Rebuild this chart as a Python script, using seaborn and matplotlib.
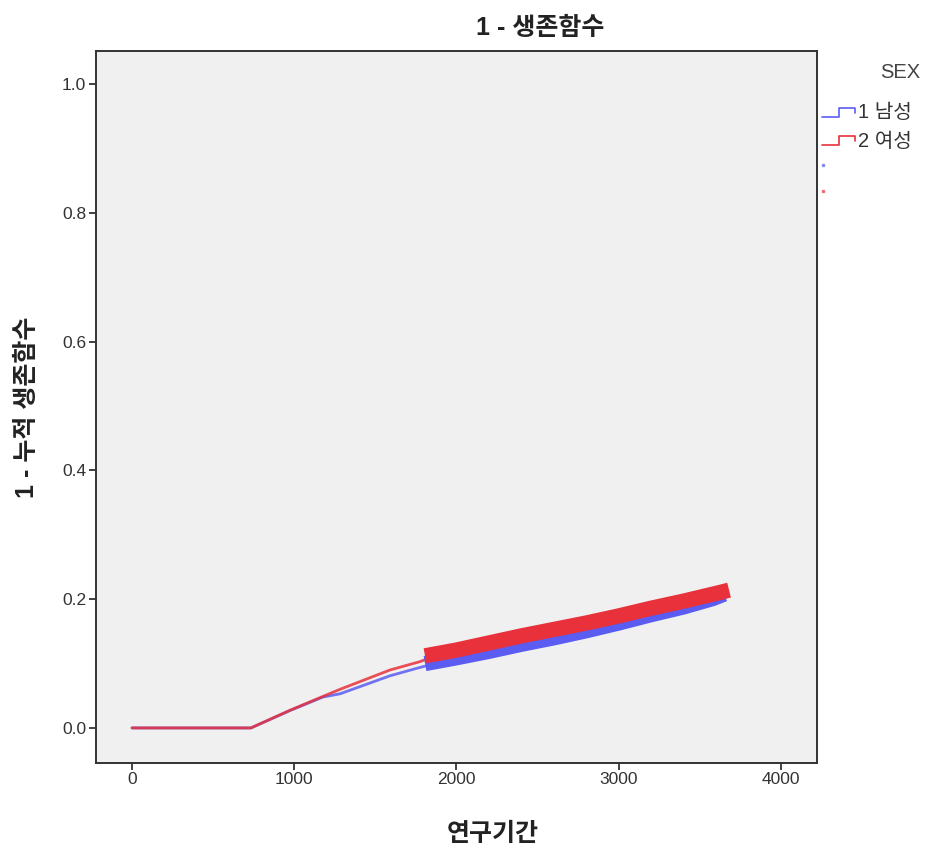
import matplotlib
matplotlib.use("Agg")
import matplotlib.pyplot as plt
from matplotlib.lines import Line2D
import seaborn as sns
import pandas as pd

# ---- data ----
groups = ["1 남성", "2 여성"]
colors = {"1 남성": "#5b5cf2", "2 여성": "#e8313a"}

# thin (uncensored-region) part of the 1 - survival curves
male_time = [0, 733, 974, 1177, 1282, 1590, 1775, 1806]
male_cum = [0.0, 0.0, 0.027, 0.048, 0.053, 0.081, 0.094, 0.096]
female_time = [0, 733, 974, 1177, 1282, 1590, 1775, 1806]
female_cum = [0.0, 0.0, 0.0275, 0.049, 0.060, 0.090, 0.103, 0.106]

# dense censored region (drawn as a thick band of censor marks)
male_cens_time = [1806, 2000, 2200, 2400, 2600, 2800, 3000, 3200, 3400, 3580, 3650]
male_cens_cum = [0.100, 0.109, 0.119, 0.130, 0.140, 0.151, 0.163, 0.176, 0.188, 0.201, 0.208]
female_cens_time = [1806, 2000, 2200, 2400, 2600, 2800, 3000, 3200, 3400, 3600, 3680]
female_cens_cum = [0.112, 0.121, 0.132, 0.143, 0.153, 0.163, 0.174, 0.186, 0.197, 0.209, 0.214]

x_ticks = [0, 1000, 2000, 3000, 4000]
y_ticks = [0.0, 0.2, 0.4, 0.6, 0.8, 1.0]

title = "1 - 생존함수"
x_label = "연구기간"
y_label = "1 - 누적 생존함수"
legend_title = "SEX"

# ---- build frames ----
line_df = pd.concat([
    pd.DataFrame({"t": male_time, "cum": male_cum, "SEX": groups[0]}),
    pd.DataFrame({"t": female_time, "cum": female_cum, "SEX": groups[1]}),
], ignore_index=True)
cens_df = pd.concat([
    pd.DataFrame({"t": male_cens_time, "cum": male_cens_cum, "SEX": groups[0]}),
    pd.DataFrame({"t": female_cens_time, "cum": female_cens_cum, "SEX": groups[1]}),
], ignore_index=True)

sns.set_theme(style="white")
FAM = ["Liberation Sans", "Noto Sans CJK KR", "DejaVu Sans"]
plt.rcParams["font.family"] = FAM

W, H = 926, 855
fig = plt.figure(figsize=(W / 100, H / 100), dpi=100)
L, R, T, B = 96, 817, 50.7, 762.7
ax = fig.add_axes([L / W, 1 - B / H, (R - L) / W, (B - T) / H])
ax.set_facecolor("#f0f0f0")

for g in groups:
    sub = line_df[line_df["SEX"] == g]
    sns.lineplot(data=sub, x="t", y="cum", ax=ax, color=colors[g], lw=2.0,
                 estimator=None, sort=False, alpha=0.85, legend=False)
for g in groups:
    sub = cens_df[cens_df["SEX"] == g]
    sns.lineplot(data=sub, x="t", y="cum", ax=ax, color=colors[g], lw=11,
                 estimator=None, sort=False, legend=False,
                 solid_capstyle="butt", solid_joinstyle="round")

ax.set_xlim(-222, 4222)
ax.set_ylim(-0.054, 1.052)
ax.set_xticks(x_ticks)
ax.set_xticklabels([str(v) for v in x_ticks])
ax.set_yticks(y_ticks)
ax.set_yticklabels([f"{v:.1f}" for v in y_ticks])
ax.tick_params(axis="both", which="major", direction="out", length=5, width=1.3,
               color="#333333", labelsize=12.5, labelcolor="#333333", pad=2,
               left=True, bottom=True)
for s in ax.spines.values():
    s.set_visible(True)
    s.set_color("#333333")
    s.set_linewidth(1.4)
ax.set_xlabel("")
ax.set_ylabel("")
ax.grid(False)

def fx(px):
    return px / W

def fy(py):
    return 1 - py / H

fig.text(fx(540), fy(28), title, ha="center", va="center", fontsize=18,
         fontweight="bold", color="#222222", family=FAM)
fig.text(fx(493), fy(834), x_label, ha="center", va="center", fontsize=18,
         fontweight="bold", color="#222222", family=FAM)
fig.text(fx(27), fy(407), y_label, ha="center", va="center", fontsize=18,
         fontweight="bold", color="#222222", rotation=90, family=FAM)

# legend
fig.text(fx(920), fy(72), legend_title, ha="right", va="center", fontsize=14.5,
         color="#444444", family=FAM)
for i, g in enumerate(groups):
    dy = 28 * i
    xs = [822, 839, 839, 855, 855]
    ys = [117 + dy, 117 + dy, 108 + dy, 108 + dy, 113 + dy]
    fig.add_artist(Line2D([fx(v) for v in xs], [fy(v) for v in ys],
                          color=colors[g], lw=1.2, transform=fig.transFigure))
    fig.text(fx(858), fy(113 + dy), g, ha="left", va="center", fontsize=14.5,
             color="#333333", family=FAM)
    fig.add_artist(Line2D([fx(823)], [fy(165 + 26 * i)], marker="s", markersize=1.5,
                          color=colors[g], lw=0, alpha=0.6,
                          transform=fig.transFigure))

fig.savefig("out.png", dpi=100)
